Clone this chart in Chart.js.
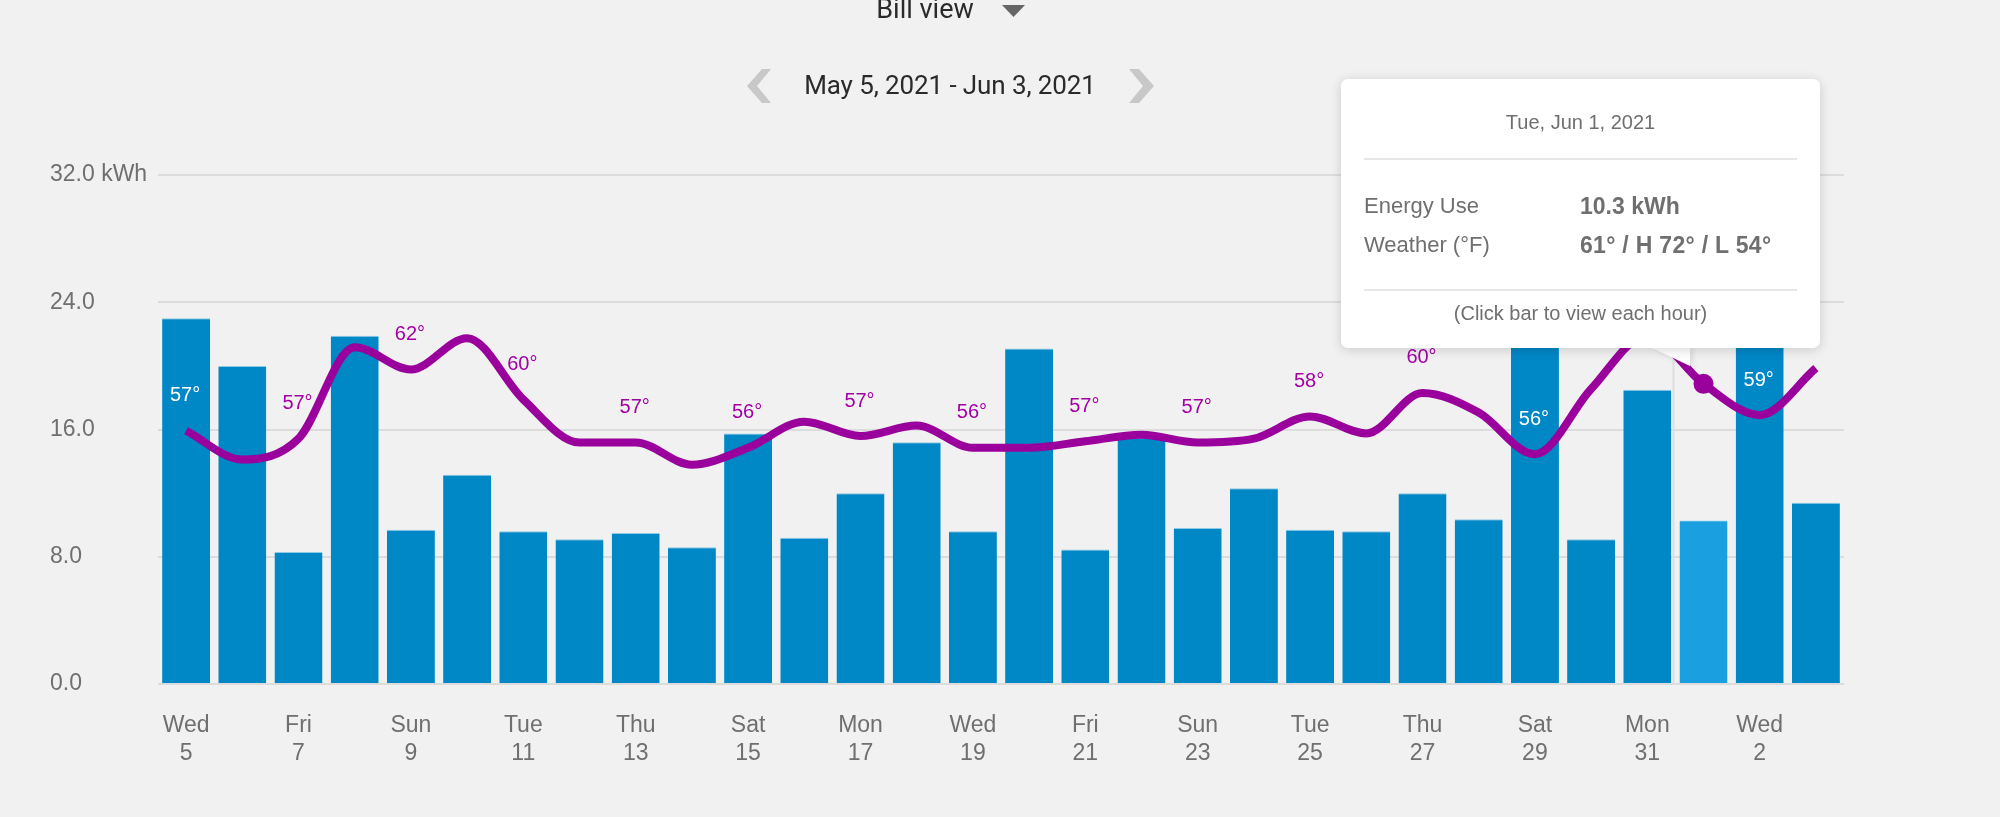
<!DOCTYPE html>
<html>
<head>
<meta charset="utf-8">
<title>Energy use</title>
<script src="https://cdn.jsdelivr.net/npm/chart.js@4"></script>
<style>
  html, body { margin: 0; padding: 0; background: #f1f1f1; overflow: hidden; }
  #wrap { position: relative; width: 2000px; height: 817px; overflow: hidden; }
  canvas { position: absolute; left: 0; top: 0; }
  .hdr { position: absolute; font-family: Roboto, sans-serif; font-weight: 400; color: #2a2a2a; white-space: nowrap; text-align: center; }
  #billView { left: 825px; width: 200px; top: -9px; font-size: 27px; line-height: 36px; }
  #range { left: 750px; width: 400px; top: 65px; font-size: 26px; line-height: 40px; letter-spacing: -0.1px; }
  svg.ui { position: absolute; left: 0; top: 0; width: 2000px; height: 817px; pointer-events: none; }
  #tip { position: absolute; left: 1341px; top: 79px; width: 479px; height: 269px; background: #fff; border-radius: 7px; box-shadow: 0 2px 12px rgba(0,0,0,.16); font-family: "Liberation Sans", Arial, sans-serif; color: #6f6f6f; }
  #tip div { position: absolute; white-space: nowrap; }
  #tip .rule { left: 23px; width: 433px; height: 2px; background: #e6e6e6; }
  #tip .big { font-size: 22px; line-height: 26px; }
  #tip .c { left: 0; width: 479px; text-align: center; font-size: 20px; line-height: 24px; }
  #tip b { font-weight: 700; font-size: 23px; }
</style>
</head>
<body>
<div id="wrap">
  <canvas id="chart" width="2000" height="817"></canvas>
  <div class="hdr" id="billView">Bill view</div>
  <div class="hdr" id="range">May 5, 2021 - Jun 3, 2021</div>
  <svg class="ui" viewBox="0 0 2000 817">
    <polygon points="1002,5 1025,5 1013.5,17" fill="#666"/>
    <polygon points="762,69 771,69 757,86 771,103 762,103 747,86" fill="#c8c8c8"/>
    <polygon points="1129,69 1139,69 1154,86 1139,103 1129,103 1143,86" fill="#c8c8c8"/>
  </svg>
  <svg class="ui" viewBox="0 0 2000 817" style="filter:drop-shadow(2px 1px 3px rgba(0,0,0,.12))">
    <polygon points="1650,347 1690,347 1690,366" fill="#fff"/>
  </svg>
  <div id="tip">
    <div class="c" style="top:31px">Tue, Jun 1, 2021</div>
    <div class="rule" style="top:79px"></div>
    <div class="big" style="left:23px;top:114px">Energy Use</div>
    <div class="big" style="left:239px;top:114px"><b>10.3 kWh</b></div>
    <div class="big" style="left:23px;top:153px">Weather (°F)</div>
    <div class="big" style="left:239px;top:153px;letter-spacing:.3px"><b>61° / H 72° / L 54°</b></div>
    <div class="rule" style="top:210px"></div>
    <div class="c" style="top:222px">(Click bar to view each hour)</div>
  </div>
</div>
<script>
const days = ["Wed","Thu","Fri","Sat","Sun","Mon","Tue","Wed","Thu","Fri","Sat","Sun","Mon","Tue","Wed","Thu","Fri","Sat","Sun","Mon","Tue","Wed","Thu","Fri","Sat","Sun","Mon","Tue","Wed","Thu"];
const dates = ["5","6","7","8","9","10","11","12","13","14","15","16","17","18","19","20","21","22","23","24","25","26","27","28","29","30","31","1","2","3"];
const energyKwh = [23.0,20.0,8.3,21.9,9.7,13.15,9.6,9.1,9.5,8.6,15.75,9.2,12.0,15.2,9.6,21.1,8.45,15.5,9.8,12.3,9.7,9.6,12.0,10.35,22.5,9.1,18.5,10.3,23.0,11.4];
const tempF = [57.4,55.2,56.8,63.8,62.1,64.5,59.8,56.5,56.5,54.8,56.1,58.1,57.0,57.8,56.1,56.1,56.6,57.1,56.5,56.8,58.5,57.2,60.3,58.8,55.6,60.6,64.7,61.0,58.6,62.2];
const tempLabels = ["57°",null,"57°",null,"62°",null,"60°",null,"57°",null,"56°",null,"57°",null,"56°",null,"57°",null,"57°",null,"58°",null,"60°",null,"56°",null,"65°",null,"59°",null];
const selectedDay = 27;

const tickGrey = "#6f6f6f";
const purple = "#99009c";

// grey line on the left of the selected bar, temperature labels above the line
const overlayPlugin = {
  id: "overlay",
  beforeDatasetsDraw(chart) {
    const { ctx, scales } = chart;
    const x = scales.x.getPixelForValue(selectedDay) - 30;
    ctx.save();
    ctx.strokeStyle = "#dedede";
    ctx.lineWidth = 2;
    ctx.beginPath();
    ctx.moveTo(x, scales.y.top);
    ctx.lineTo(x, scales.y.bottom);
    ctx.stroke();
    ctx.restore();
  },
  afterDatasetsDraw(chart) {
    const { ctx, scales } = chart;
    ctx.save();
    ctx.font = '20px "Liberation Sans", Arial, sans-serif';
    ctx.textAlign = "center";
    ctx.textBaseline = "middle";
    tempLabels.forEach((label, i) => {
      if (!label) return;
      const x = scales.x.getPixelForValue(i) - 1;
      const y = scales.temp.getPixelForValue(tempF[i]) - 35;
      ctx.fillStyle = y > scales.y.getPixelForValue(energyKwh[i]) ? "#ffffff" : "#a400a6";
      ctx.fillText(label, x, y);
    });
    ctx.restore();
  }
};

new Chart(document.getElementById("chart"), {
  type: "bar",
  data: {
    labels: days.map((d, i) => [d, dates[i]]),
    datasets: [
      {
        type: "line",
        data: tempF,
        yAxisID: "temp",
        borderColor: purple,
        borderWidth: 8,
        cubicInterpolationMode: "monotone",
        fill: false,
        clip: false,
        order: 1,
        pointRadius: tempF.map((v, i) => (i === selectedDay ? 10 : 0)),
        pointBackgroundColor: purple,
        pointBorderWidth: 0
      },
      {
        data: energyKwh,
        yAxisID: "y",
        backgroundColor: energyKwh.map((v, i) => (i === selectedDay ? "#1aa0e0" : "#0087c6")),
        borderColor: energyKwh.map((v, i) => (i === selectedDay ? "#bfe3f5" : "#8ccbe8")),
        borderWidth: { top: 1, left: 0, right: 0, bottom: 0 },
        barPercentage: 0.854,
        categoryPercentage: 1,
        order: 2
      }
    ]
  },
  options: {
    responsive: false,
    animation: false,
    devicePixelRatio: 1,
    layout: { padding: { left: 50, right: 156, top: 175, bottom: 30 } },
    plugins: { legend: { display: false }, tooltip: { enabled: false } },
    scales: {
      x: {
        grid: { display: false },
        border: { display: false },
        afterFit(scale) { scale.height = 103; },
        ticks: {
          autoSkip: false,
          maxRotation: 0,
          padding: 20,
          color: tickGrey,
          font: { family: '"Liberation Sans", Arial, sans-serif', size: 23, lineHeight: 1.2 },
          callback(value, i) { return i % 2 === 0 ? this.getLabelForValue(value) : ""; }
        }
      },
      y: {
        min: 0,
        max: 32,
        afterFit(scale) { scale.width = 108; },
        grid: { color: "#dcdcdc", lineWidth: 2, drawTicks: false },
        border: { display: false },
        afterBuildTicks(scale) { scale.ticks = [0, 8, 16, 24, 32].map(value => ({ value })); },
        ticks: {
          crossAlign: "far",
          padding: 0,
          color: tickGrey,
          font: { family: '"Liberation Sans", Arial, sans-serif', size: 23 },
          callback(v) { return v === 32 ? v.toFixed(1) + " kWh" : v.toFixed(1); }
        }
      },
      temp: { display: false, position: "right", min: 38, max: 77 }
    }
  },
  plugins: [overlayPlugin]
});
</script>
</body>
</html>
